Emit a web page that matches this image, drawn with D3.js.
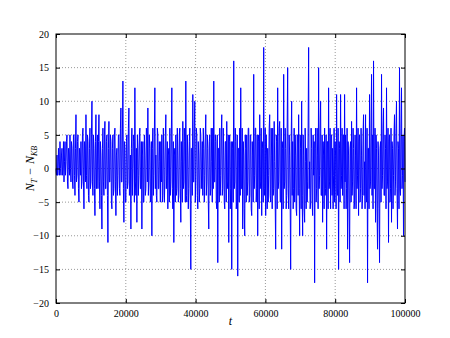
<!DOCTYPE html>
<html>
<head>
<meta charset="utf-8">
<script src="https://cdn.jsdelivr.net/npm/d3@7"></script>
<style>
  body { margin: 0; background: #fff; }
  svg text { font-family: "Liberation Serif", "DejaVu Serif", serif; fill: #000; }
</style>
</head>
<body>
<div id="chart"></div>
<script>
// N_T - N_KB, about two values per screen pixel
const values = [
  0,-1,2,-1,-1,3,1,-1,4,0,-1,2,3,-1,0,4,-2,1,4,-1,
  1,4,5,-2,-3,3,2,-1,5,0,-2,4,3,-2,-3,5,5,-1,-4,3,
  8,-2,-1,4,5,-3,-5,3,2,-1,4,-3,-2,5,6,-2,-6,4,3,-2,
  8,-1,-3,5,4,-4,-5,3,6,-3,-2,5,10,-2,-4,5,3,-3,-7,4,
  8,-3,0,5,-3,4,8,-2,-6,4,2,-4,-9,3,6,-2,-4,5,7,-3,
  -3,4,5,-4,-11,3,7,-2,-2,5,4,-5,-6,3,5,-4,-3,5,6,-2,
  -7,2,3,-4,-1,5,5,-3,-4,6,9,-2,-2,5,13,-3,-8,4,3,-5,
  -5,4,5,-3,-2,6,9,-4,-3,2,-9,3,6,-4,0,5,4,-5,12,-2,
  -4,3,-8,5,3,-4,-1,5,6,-3,-3,4,-9,2,4,-5,-5,5,2,-4,
  -3,6,5,-2,9,-4,-2,5,3,-5,-4,4,-10,3,6,-4,-1,5,12,-3,
  2,-4,-5,6,5,-3,-3,4,1,-5,4,-2,5,-5,-4,6,2,-5,-2,5,
  8,-3,-1,4,-6,2,3,-5,6,-4,-2,5,12,-3,-6,4,-11,2,3,-5,
  5,-4,-3,6,2,-5,-4,5,6,-3,-8,4,1,-5,7,-3,-2,6,4,-5,
  13,-4,-5,5,2,-6,-3,4,6,-5,-15,3,3,-4,11,-2,-2,6,10,-5,
  -1,6,5,-4,-6,4,2,-5,-3,6,5,-3,0,4,-4,6,3,-5,-1,5,
  8,-4,-2,5,3,-5,-9,4,5,-4,-3,6,1,-5,6,-3,13,-2,-2,5,
  4,-5,-6,5,-14,3,3,-5,6,-4,-1,5,8,-4,-3,6,2,-5,-6,4,
  4,-5,7,-3,-2,5,-11,4,5,-6,-3,4,-15,3,4,-5,16,-3,-2,6,
  4,-6,-5,5,-16,3,3,-5,6,-4,12,-3,-3,6,-9,4,2,-6,-10,5,
  3,-5,5,-4,-2,6,6,-5,-4,5,5,-6,-7,4,2,-5,14,-3,-1,6,
  6,-5,-3,5,-10,4,5,-6,8,-3,-2,6,-7,4,3,-5,18,-3,-4,6,
  -7,5,2,-6,3,-5,-1,6,8,-4,-5,6,2,-6,6,-4,-3,7,1,-5,
  -12,5,4,-6,12,-3,-2,6,7,-5,-5,6,-12,4,3,-6,14,-3,-2,6,
  3,-6,-4,6,15,-3,-6,5,2,-5,-15,4,10,-4,4,-6,-3,6,-5,5,
  2,-6,-7,5,5,-4,8,-3,-10,5,3,-6,10,-4,-10,5,2,-6,-8,6,
  1,-6,3,-5,-2,6,18,-3,1,-6,-5,6,3,-5,-7,5,-1,4,-17,3,
  6,-5,-3,6,2,-6,15,-3,-1,6,10,-4,-4,5,-8,4,2,-6,6,-4,
  -3,5,-12,4,4,-6,12,-3,-2,6,-6,5,5,-4,3,-6,-1,6,-5,4,
  2,-6,11,-3,-4,6,-15,4,3,-5,11,-3,-1,6,-4,5,5,-6,11,-2,
  5,-6,-3,6,-12,4,2,-6,-14,3,4,-5,7,-4,-2,6,3,-6,-5,5,
  2,-6,12,-3,-1,6,-7,4,5,-5,-3,6,2,-6,-4,5,8,-4,1,-6,
  8,-4,-5,6,-17,3,3,-6,11,-3,-2,6,14,-4,5,-6,16,-3,-3,6,
  -8,5,3,-6,-12,4,2,-6,-14,3,4,-5,14,-3,-1,6,9,-4,-4,5,
  3,-6,12,-3,-2,6,-11,4,5,-5,-3,6,-8,4,3,-6,-1,5,8,-4,
  -2,6,10,-3,-9,4,3,-6,15,-3,-4,6,12,-3,-1,5,-10,4,6,-2
];
const tMax = 100000;
const xTicks = [0, 20000, 40000, 60000, 80000, 100000];
const yTicks = [-20, -15, -10, -5, 0, 5, 10, 15, 20];

const width = 450, height = 338;
const margin = { left: 56, right: 45, top: 34, bottom: 35 };
const w = width - margin.left - margin.right;
const h = height - margin.top - margin.bottom;

const data = values.map((v, i) => ({ t: i * tMax / (values.length - 1), v: v }));

const svg = d3.select("#chart").append("svg")
    .attr("width", width)
    .attr("height", height);

const g = svg.append("g")
    .attr("transform", `translate(${margin.left},${margin.top})`);

const x = d3.scaleLinear().domain([0, tMax]).range([0, w]);
const y = d3.scaleLinear().domain([-20, 20]).range([h, 0]);

// grid
g.append("g").selectAll("line.gx")
    .data(xTicks.slice(1, -1))
    .enter().append("line")
    .attr("x1", d => x(d)).attr("x2", d => x(d))
    .attr("y1", 0).attr("y2", h)
    .attr("stroke", "#999").attr("stroke-dasharray", "1,2");
g.append("g").selectAll("line.gy")
    .data(yTicks.slice(1, -1))
    .enter().append("line")
    .attr("x1", 0).attr("x2", w)
    .attr("y1", d => y(d)).attr("y2", d => y(d))
    .attr("stroke", "#999").attr("stroke-dasharray", "1,2");

// series
g.append("path")
    .datum(data)
    .attr("fill", "none")
    .attr("stroke", "#0000ff")
    .attr("stroke-width", 1)
    .attr("d", d3.line().x(d => x(d.t)).y(d => y(d.v)));

// axes, ticks pointing inward like matplotlib
const fmt = d => d < 0 ? "\u2212" + Math.abs(d) : String(d);
g.append("g").attr("transform", `translate(0,${h})`)
    .call(d3.axisBottom(x).tickValues(xTicks).tickFormat(fmt).tickSizeInner(-4).tickSizeOuter(0).tickPadding(7));
g.append("g")
    .call(d3.axisLeft(y).tickValues(yTicks).tickFormat(fmt).tickSizeInner(-4).tickSizeOuter(0).tickPadding(7));
g.append("g").call(d3.axisTop(x).tickValues(xTicks).tickFormat("").tickSizeInner(-4).tickSizeOuter(0));
g.append("g").attr("transform", `translate(${w},0)`)
    .call(d3.axisRight(y).tickValues(yTicks).tickFormat("").tickSizeInner(-4).tickSizeOuter(0));

svg.selectAll(".domain").remove();
svg.selectAll(".tick line").attr("stroke", "#000");
svg.selectAll(".tick text").style("font-size", "10px")
    .style("font-family", "'Liberation Serif', 'DejaVu Serif', serif");

// frame
g.append("rect")
    .attr("width", w).attr("height", h)
    .attr("fill", "none").attr("stroke", "#000").attr("stroke-width", 1);

// labels
svg.append("text")
    .attr("x", margin.left + w / 2).attr("y", 325)
    .attr("text-anchor", "middle")
    .style("font-size", "12px").style("font-style", "italic")
    .text("t");

const yl = svg.append("text")
    .attr("transform", `translate(34,${margin.top + h / 2}) rotate(-90)`)
    .attr("text-anchor", "middle")
    .style("font-size", "12px").style("font-style", "italic");
yl.append("tspan").text("N");
yl.append("tspan").attr("dy", 2.5).style("font-size", "8px").text("T");
yl.append("tspan").attr("dy", -2.5).attr("dx", 4).style("font-style", "normal").text("\u2212");
yl.append("tspan").attr("dx", 4).text("N");
yl.append("tspan").attr("dy", 2.5).style("font-size", "8px").text("KB");
</script>
</body>
</html>
